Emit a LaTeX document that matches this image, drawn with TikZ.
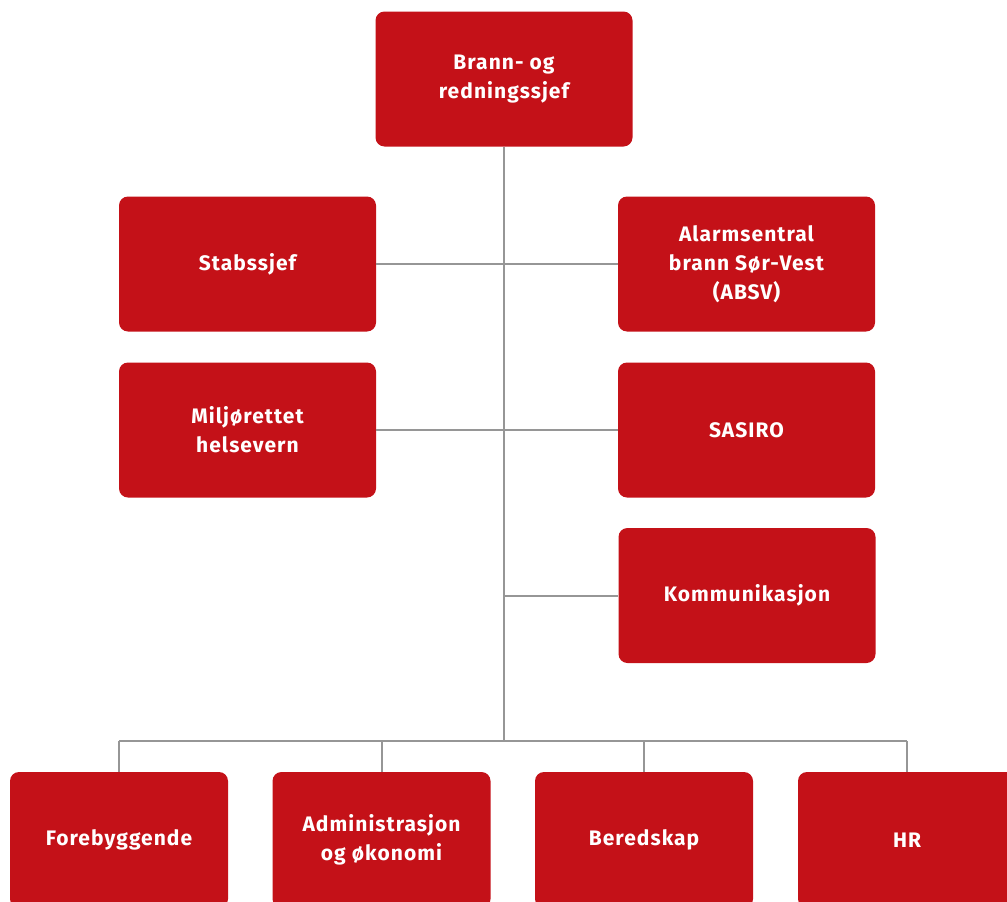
\documentclass[tikz,border=0pt]{standalone}
\usepackage{fontspec}
\setmainfont{Fira Sans}[LetterSpace=5]
\usetikzlibrary{calc}
\definecolor{boxred}{RGB}{196,17,24}
\definecolor{linegray}{RGB}{150,150,150}
\begin{document}
\begin{tikzpicture}[x=1pt,y=-1pt,
  orgbox/.style={rectangle,rounded corners=9pt,fill=boxred,draw=none,
    text=white,font=\fontsize{21}{29}\selectfont\bfseries,align=center,
    minimum width=257pt,minimum height=135pt,inner sep=0pt},
  lowbox/.style={orgbox,minimum width=218pt,minimum height=136pt},
  conn/.style={draw=linegray,line width=2pt}]
\useasboundingbox (0,0) rectangle (1007,902);
\begin{scope}
\clip (0,0) rectangle (1007,902);
\node[orgbox] (top) at (504,79) {Brann- og\\redningssjef};
\node[orgbox] (stab) at (247.5,264) {Stabssjef};
\node[orgbox] (alarm) at (746.5,264) {Alarmsentral\\brann Sør-Vest\\(ABSV)};
\node[orgbox] (milj) at (247.5,430) {Miljørettet\\helsevern};
\node[orgbox] (sasiro) at (746.5,430) {SASIRO};
\node[orgbox] (komm) at (747,595.5) {Kommunikasjon};
\node[lowbox] (fore) at (119,840) {Forebyggende};
\node[lowbox] (adm) at (381.5,840) {Administrasjon\\og økonomi};
\node[lowbox] (bered) at (644,840) {Beredskap};
\node[lowbox] (hr) at (907,840) {HR};
\end{scope}
\coordinate (bus) at (504,741);
\coordinate (kj) at (504,595.5);
\draw[conn] (top.south) -- (bus);
\draw[conn] (stab.east) -- (alarm.west);
\draw[conn] (milj.east) -- (sasiro.west);
\draw[conn] (kj) -- (komm.west);
\draw[conn] (fore.north |- bus) -- (hr.north |- bus);
\draw[conn] (fore.north |- bus) -- (fore.north);
\draw[conn] (adm.north |- bus) -- (adm.north);
\draw[conn] (bered.north |- bus) -- (bered.north);
\draw[conn] (hr.north |- bus) -- (hr.north);
\end{tikzpicture}
\end{document}
